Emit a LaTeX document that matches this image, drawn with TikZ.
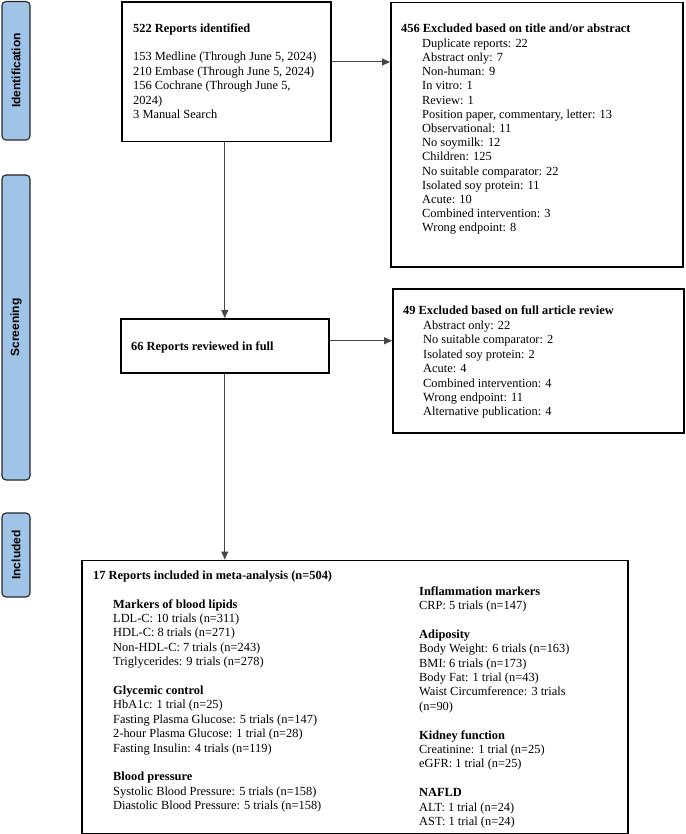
\documentclass[tikz,border=0pt]{standalone}
\usepackage{fontspec}
\setmainfont{Liberation Serif}
\newfontfamily\sidefont{Liberation Sans}
\usetikzlibrary{arrows.meta}
\definecolor{sideblue}{RGB}{160,196,231}
\definecolor{connc}{RGB}{70,70,70}
\newcommand{\fs}{\fontsize{12.4}{14.4}\selectfont}
\tikzset{
  box/.style={draw=black, line width=1.5pt, fill=white, inner sep=0pt, anchor=north west},
  side/.style={draw=black!85, line width=1.1pt, fill=sideblue, rounded corners=4pt},
  sidelabel/.style={rotate=90, font=\sidefont\bfseries\fontsize{12}{14}\selectfont, inner sep=0pt},
  txt/.style={anchor=north west, inner sep=0pt, align=left, font=\fs},
  conn/.style={draw=connc, line width=1pt, -{Triangle[length=8pt,width=7pt]}},
  plain/.style={draw=connc, line width=1pt}
}
\begin{document}
\begin{tikzpicture}[x=1pt,y=-1pt]
\useasboundingbox (0,0) rectangle (685,834);
% side bars
\draw[side] (2,1.5) rectangle (30,140) coordinate (s1);
\node[sidelabel] (lid) at (16,70.5) {Identification};
\draw[side] (2,175) rectangle (30,480) coordinate (s2);
\node[sidelabel] (lsc) at (16,327.5) {Screening};
\draw[side] (2,513) rectangle (30,597) coordinate (s3);
\node[sidelabel] (lin) at (16,555) {Included};
% boxes
\node[box, minimum width=209pt, minimum height=139.5pt] (b1) at (121,1.5) {};
\node[box, minimum width=292pt, minimum height=264pt] (b456) at (390,2) {};
\node[box, minimum width=208pt, minimum height=54pt] (b66) at (120,318) {};
\node[box, minimum width=291pt, minimum height=144pt] (b49) at (392,288) {};
\node[box, minimum width=546pt, minimum height=273pt] (b17) at (81,559.5) {};
% texts
\node[txt] (t1) at (133,21.9) {\strut\textbf{522 Reports identified}\\[14.4pt]
153 Medline (Through June 5, 2024)\\
210 Embase (Through June 5, 2024)\\
156 Cochrane (Through June 5,\\
2024)\\
3 Manual Search};
\node[txt] (t456) at (401,21.9) {\strut\textbf{456 Excluded based on title and/or abstract}};
\node[txt, font=\fontsize{12.4}{14.2}\selectfont] (l456) at (422,37.2) {\strut Duplicate reports: 22\\
Abstract only: 7\\
Non-human: 9\\
In vitro: 1\\
Review: 1\\
Position paper, commentary, letter: 13\\
Observational: 11\\
No soymilk: 12\\
Children: 125\\
No suitable comparator: 22\\
Isolated soy protein: 11\\
Acute: 10\\
Combined intervention: 3\\
Wrong endpoint: 8};
\node[txt] (t66) at (131,339.9) {\strut\textbf{66 Reports reviewed in full}};
\node[txt] (t49) at (403,303.9) {\strut\textbf{49 Excluded based on full article review}};
\node[txt, font=\fontsize{12.4}{14.45}\selectfont] (l49) at (423,318.9) {\strut Abstract only: 22\\
No suitable comparator: 2\\
Isolated soy protein: 2\\
Acute: 4\\
Combined intervention: 4\\
Wrong endpoint: 11\\
Alternative publication: 4};
\node[txt] (t17) at (93,568.9) {\strut\textbf{17 Reports included in meta-analysis (n=504)}};
\node[txt] (c17a) at (113,597.9) {\strut\textbf{Markers of blood lipids}\\
LDL-C: 10 trials (n=311)\\
HDL-C: 8 trials (n=271)\\
Non-HDL-C: 7 trials (n=243)\\
Triglycerides: 9 trials (n=278)\\[14.4pt]
\textbf{Glycemic control}\\
HbA1c: 1 trial (n=25)\\
Fasting Plasma Glucose: 5 trials (n=147)\\
2-hour Plasma Glucose: 1 trial (n=28)\\
Fasting Insulin: 4 trials (n=119)\\[14.4pt]
\textbf{Blood pressure}\\
Systolic Blood Pressure: 5 trials (n=158)\\
Diastolic Blood Pressure: 5 trials (n=158)};
\node[txt] (c17b) at (419,584.9) {\strut\textbf{Inflammation markers}\\
CRP: 5 trials (n=147)\\[14.4pt]
\textbf{Adiposity}\\
Body Weight: 6 trials (n=163)\\
BMI: 6 trials (n=173)\\
Body Fat: 1 trial (n=43)\\
Waist Circumference: 3 trials\\
(n=90)\\[14.4pt]
\textbf{Kidney function}\\
Creatinine: 1 trial (n=25)\\
eGFR: 1 trial (n=25)\\[14.4pt]
\textbf{NAFLD}\\
ALT: 1 trial (n=24)\\
AST: 1 trial (n=24)};
% connectors
\draw[conn] ([yshift=10pt]b1.east) -- ([yshift=10pt]b1.east -| b456.west);
\draw[conn] (b66.north |- b1.south) -- (b66.north);
\draw[conn] ([yshift=5pt]b66.east) -- ([yshift=5pt]b66.east -| b49.west);
\draw[conn] (b66.south) -- (b66.south |- b17.north);
\end{tikzpicture}
\end{document}
